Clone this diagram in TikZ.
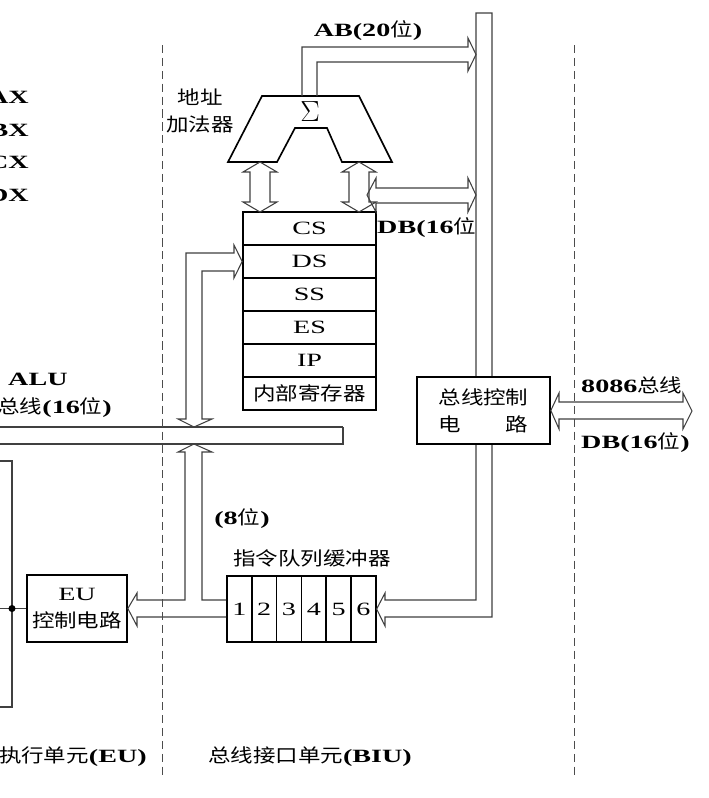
\documentclass[tikz,border=0pt]{standalone}
\usepackage{fontspec}
\setmainfont{Liberation Serif}[FakeStretch=1.5]
\newfontfamily\cjk{Noto Sans CJK SC}[FakeStretch=1.2]
\newcommand\zh[1]{{\cjk\mdseries #1}}

\begin{document}
\begin{tikzpicture}[x=0.03cm,y=-0.03cm,
  every node/.style={inner sep=0pt,font=\fontsize{16}{23}\selectfont},
  lbl/.style={font=\fontsize{16}{23}\selectfont\bfseries},
  hollow/.style={draw=black!75,line width=0.9pt,line join=miter},
  box/.style={draw,line width=1.4pt,fill=white},
  sep/.style={draw=black!70,line width=0.8pt,dash pattern=on 7pt off 4pt}]
\clip (0,0) rectangle (709,798);
\fill[white] (0,0) rectangle (709,798);

% registers of the EU (cut at the left)
\node[lbl,anchor=east] (ax) at (29,97) {AX};
\node[lbl,anchor=east] (bx) at (29,130) {BX};
\node[lbl,anchor=east] (cx) at (29,162) {CX};
\node[lbl,anchor=east] (dx) at (29,195) {DX};
\node[lbl,anchor=west] (alu) at (8,379) {ALU};
\node[lbl,anchor=east] (alubus) at (112,408) {\zh{总线}(16\zh{位})};

% address adder
\draw[line width=1.4pt] (262,96) -- (359,96) -- (392,162) -- (342,162) -- (327,128)
  -- (295,128) -- (277,162) -- (228,162) -- cycle;
\node[font=\fontsize{24}{24}\selectfont] (sigma) at (310,112) {$\Sigma$};
\node[align=center] (adder) at (200,111) {\zh{地址}\\\zh{加法器}};

% segment registers
\foreach \t [count=\i] in {CS,DS,SS,ES,IP,\zh{内部寄存器}}
  \node[box,minimum width=3.99cm,minimum height=0.99cm] (r\i) at (309.5,195.5+33*\i) {\t};
\coordinate (ds) at (r2.west);

\node[lbl,anchor=west] (db) at (377,228) {DB(16\zh{位}};
\node[lbl] (ab) at (368,31) {AB(20\zh{位})};

% instruction queue
\foreach \i in {1,...,6}
  \node[box,minimum width=0.745cm,minimum height=1.98cm] (q\i) at (214.6+24.8*\i,609) {\i};
\node (qlabel) at (312,558) {\zh{指令队列缓冲器}};
\node[lbl] (eight) at (242,519) {(8\zh{位})};

% bus to the queue
\draw[hollow,fill=white] (476,600) -- (476,13) -- (492,13) -- (492,617) -- (385,617)
  -- (385,626) -- (q6.east) -- (385,593) -- (385,600) -- cycle;

% bus control
\node[box,minimum width=3.99cm,minimum height=2.01cm,align=center] (bc) at (483.5,410.5)
  {\zh{总线控制}\\\zh{电　　路}};
\node[lbl,anchor=west] (ext) at (581,385) {8086\zh{总线}};
\node[lbl,anchor=west] (extdb) at (581,443) {DB(16\zh{位})};

% EU control
\node[box,minimum width=3cm,minimum height=2.01cm,align=center] (eu) at (77,608.5)
  {EU\\\zh{控制电路}};

% hollow arrows
\draw[hollow] (302,96) -- (302,47) -- (468,47) -- (468,38) -- (476,54.5) -- (468,71)
  -- (468,62) -- (317,62) -- (317,96);
\draw[hollow] (367,195) -- (376,178) -- (376,188) -- (468,188) -- (468,178) -- (476,195)
  -- (468,212) -- (468,203) -- (376,203) -- (376,212) -- cycle;
\foreach \c in {260,359}
  \draw[hollow] (\c,162) -- ++(17,10) -- ++(-7,0) -- ++(0,30) -- ++(7,0) -- (\c,212)
    -- ++(-17,-10) -- ++(7,0) -- ++(0,-30) -- ++(-7,0) -- cycle;
\draw[hollow] (343,427) -- (-5,427) (-5,444) -- (343,444) -- (343,427);
\draw[hollow] (186,419) -- (186,253) -- (234,253) -- (234,245) -- (ds) -- (234,278)
  -- (234,271) -- (202,271) -- (202,419) -- (212,419) -- (194,427) -- (178,419) -- cycle;
\draw[hollow] (q1.west |- 0,600) -- (202,600) -- (202,452) -- (212,452) -- (194,444)
  -- (178,452) -- (185,452) -- (185,600) -- (137,600) -- (137,593) -- (eu.east)
  -- (137,626) -- (137,617) -- (q1.west |- 0,617);
\draw[hollow] (bc.east) -- (559,393) -- (559,402) -- (683,402) -- (683,393) -- (692,411)
  -- (683,429) -- (683,419) -- (559,419) -- (559,429) -- cycle;

% line from the EU registers
\coordinate (dot) at (12,608.5);
\coordinate (left) at (-5,608.5);
\draw[hollow] (-5,461) -- (12,461) -- (12,707) -- (-5,707);
\draw[hollow] (left) -- (eu.west);
\fill (dot) circle (3pt);

% units
\draw[sep] (162,45) -- (162,775);
\draw[sep] (574,45) -- (574,775);
\node[lbl,anchor=east] (eulabel) at (147,757) {\zh{执行单元}(EU)};
\node[lbl] (biulabel) at (310,757) {\zh{总线接口单元}(BIU)};
\end{tikzpicture}
\end{document}
